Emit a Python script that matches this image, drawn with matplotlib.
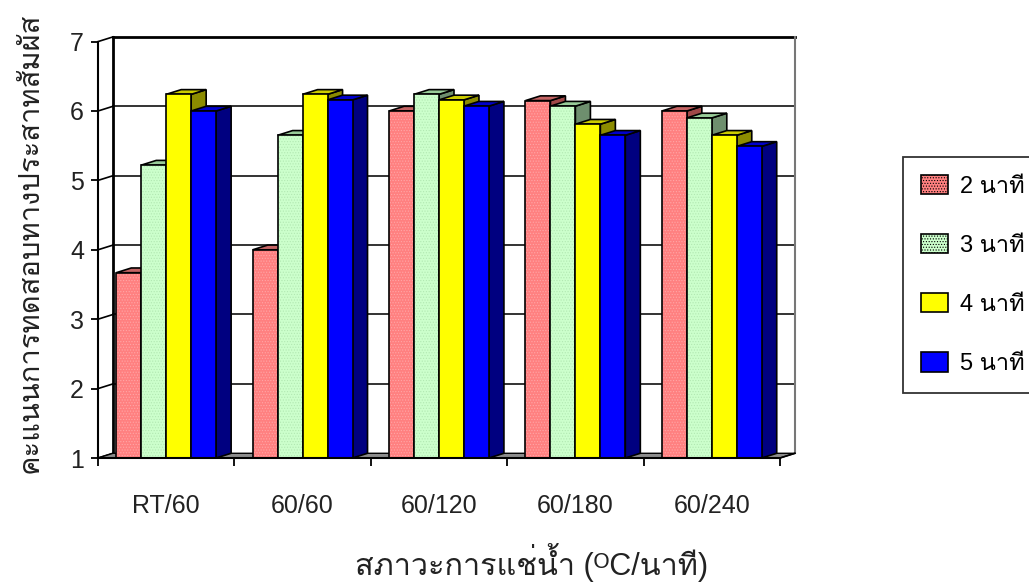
import matplotlib
matplotlib.use("Agg")
import matplotlib.pyplot as plt
from matplotlib import font_manager
from matplotlib.ft2font import FT2Font
from matplotlib.patches import Polygon, Patch

conditions = ["RT/60", "60/60", "60/120", "60/180", "60/240"]
series_names = ["2 นาที", "3 นาที", "4 นาที", "5 นาที"]
min2 = [3.67, 4.00, 6.00, 6.15, 6.00]
min3 = [5.22, 5.65, 6.24, 6.07, 5.90]
min4 = [6.24, 6.24, 6.16, 5.81, 5.65]
min5 = [6.00, 6.16, 6.07, 5.65, 5.49]
y_ticks = [1, 2, 3, 4, 5, 6, 7]


def find_thai_family():
    # first installed family that has Thai glyphs
    for f in font_manager.fontManager.ttflist:
        try:
            cmap = FT2Font(f.fname).get_charmap()
        except Exception:
            continue
        if all(ord(c) in cmap for c in "นาทีสภ"):
            return f.name
    return "DejaVu Sans"


thai = find_thai_family()
plt.rcParams["font.family"] = ["Liberation Sans", thai, "DejaVu Sans"]
plt.rcParams["hatch.linewidth"] = 0.5

# front face, top and side colours per series
front = ["#ff8080", "#ccffcc", "#ffff00", "#0000ff"]
dots = ["#ffa6a6", "#b2e8b2", None, None]
tops = ["#c46464", "#99cc99", "#cccc00", "#0000cc"]
sides = ["#a04848", "#6e8f6e", "#8c8c00", "#000080"]

dx, dy = 0.11, 0.068   # depth of the 3d look in data units
bw = 0.183             # bar width
fs = 18

fig = plt.figure(figsize=(10.29, 5.85), dpi=100)
ax = fig.add_axes([98 / 1029, 127 / 585, 682 / 1029, 416.4 / 585])
ax.set_xlim(-0.5, 4.5)
ax.set_ylim(1, 7)
ax.patch.set_visible(False)
for s in ["top", "right"]:
    ax.spines[s].set_visible(False)
ax.spines["left"].set_linewidth(1.5)
ax.spines["bottom"].set_linewidth(1.5)

# floor
floor = Polygon([(-0.5, 1), (4.5, 1), (4.5 + dx, 1 + dy), (-0.5 + dx, 1 + dy)],
                closed=True, facecolor="#8c8c8c", edgecolor="black", lw=1,
                clip_on=False, zorder=1)
ax.add_patch(floor)

# back wall with gridlines
for v in y_ticks[1:-1]:
    ax.plot([-0.5 + dx, 4.5 + dx], [v + dy, v + dy], color="#333333", lw=1.4,
            clip_on=False, zorder=0.5)
ax.plot([-0.5 + dx, 4.5 + dx], [7 + dy, 7 + dy], color="black", lw=2, clip_on=False, zorder=0.5)
ax.plot([-0.5 + dx, -0.5 + dx], [1 + dy, 7 + dy], color="black", lw=2, clip_on=False, zorder=0.5)
ax.plot([4.5 + dx, 4.5 + dx], [1 + dy, 7 + dy], color="#777777", lw=1.5, clip_on=False, zorder=0.5)
# side wall lines running back from each tick
for v in y_ticks:
    ax.plot([-0.5, -0.5 + dx], [v, v + dy], color="black", lw=1.2, clip_on=False, zorder=0.6)
ax.plot([4.5, 4.5 + dx], [1, 1 + dy], color="black", lw=1.2, clip_on=False, zorder=1.2)

# bars
data = [min2, min3, min4, min5]
for i in range(len(conditions)):
    for j, vals in enumerate(data):
        v = vals[i]
        x0 = i - 2 * bw + j * bw
        z = 2 + i * 0.1 + j * 0.01
        side = Polygon([(x0 + bw, 1), (x0 + bw + dx, 1 + dy), (x0 + bw + dx, v + dy), (x0 + bw, v)],
                       closed=True, facecolor=sides[j], edgecolor="black", lw=1.2,
                       clip_on=False, zorder=z)
        top = Polygon([(x0, v), (x0 + bw, v), (x0 + bw + dx, v + dy), (x0 + dx, v + dy)],
                      closed=True, facecolor=tops[j], edgecolor="black", lw=1.2,
                      clip_on=False, zorder=z)
        face_pts = [(x0, 1), (x0 + bw, 1), (x0 + bw, v), (x0, v)]
        if dots[j]:
            face = Polygon(face_pts, closed=True, facecolor=front[j], edgecolor=dots[j],
                           hatch="......", lw=0, clip_on=False, zorder=z)
        else:
            face = Polygon(face_pts, closed=True, facecolor=front[j], lw=0,
                           clip_on=False, zorder=z)
        outline = Polygon(face_pts, closed=True, fill=False, edgecolor="black", lw=1.2,
                          clip_on=False, zorder=z)
        for p in (side, top, face, outline):
            ax.add_patch(p)

# ticks: boundaries get tick marks, centres get the labels
ax.set_xticks([k - 0.5 for k in range(len(conditions) + 1)])
ax.set_xticklabels([])
ax.set_xticks(range(len(conditions)), minor=True)
ax.set_xticklabels(conditions, minor=True, fontsize=fs, color="#222222")
ax.tick_params(axis="x", which="major", direction="out", length=6, width=1.3)
ax.tick_params(axis="x", which="minor", length=0, pad=26)
ax.set_yticks(y_ticks)
ax.set_yticklabels([str(t) for t in y_ticks], fontsize=fs, color="#222222")
ax.tick_params(axis="y", direction="out", length=5, width=1.3, pad=5)

fig.text(30 / 1029, 1 - 243 / 585, "คะแนนการทดสอบทางประสาทสัมผัส", rotation=90,
         ha="center", va="center", fontsize=21, color="#222222")
fig.text(532 / 1029, 1 - 563 / 585, "สภาวะการแช่น้ำ (ᴼC/นาที)",
         ha="center", va="center", fontsize=22, color="#222222")

handles = []
for j in range(4):
    if dots[j]:
        handles.append(Patch(facecolor=front[j], edgecolor="black", hatch="......", lw=1.2))
    else:
        handles.append(Patch(facecolor=front[j], edgecolor="black", lw=1.2))
leg = fig.legend(handles, series_names, loc="upper left",
                 bbox_to_anchor=(903 / 1029, 1 - 157 / 585), fontsize=17,
                 frameon=True, fancybox=False, edgecolor="black",
                 handlelength=1.15, handleheight=0.9, handletextpad=0.5,
                 labelspacing=1.53, borderpad=0.75, borderaxespad=0)
leg.get_frame().set_linewidth(1.3)

fig.savefig("out.png", dpi=100)
